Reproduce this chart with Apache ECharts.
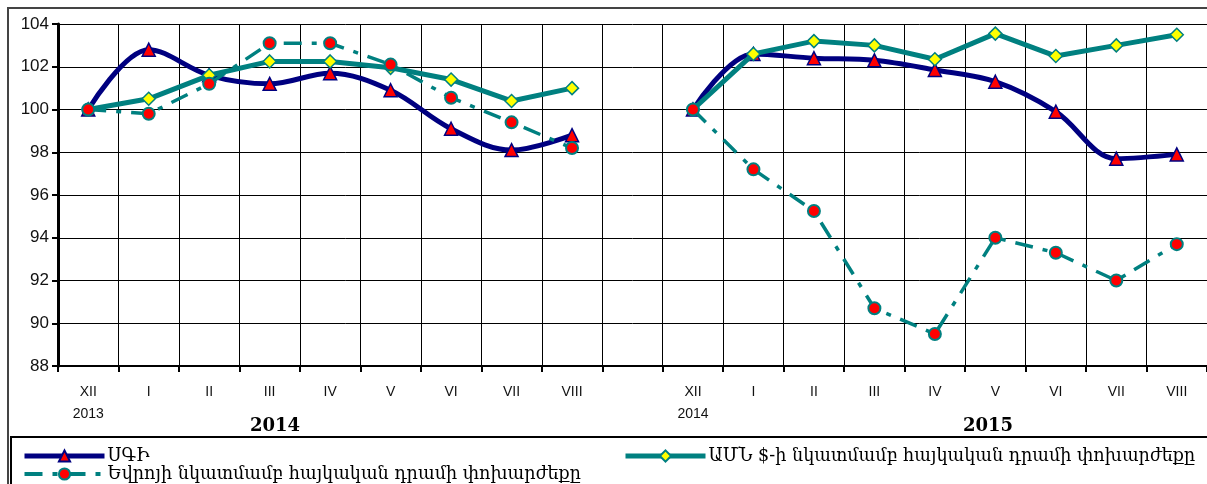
<!DOCTYPE html>
<html>
<head>
<meta charset="utf-8">
<script src="https://cdn.jsdelivr.net/npm/echarts@6/dist/echarts.min.js"></script>
<style>html,body{margin:0;padding:0;background:#fff}#c{width:1207px;height:484px}</style>
</head>
<body>
<div id="c"></div>
<script>
const categories = ['XII\n2013','I','II','III','IV','V','VI','VII','VIII','','XII\n2014','I','II','III','IV','V','VI','VII','VIII'];
const yearLabels = ['2014', '2015'];
const seriesNames = ['ՍԳԻ', 'Եվրոյի նկատմամբ հայկական դրամի փոխարժեքը', 'ԱՄՆ $-ի նկատմամբ հայկական դրամի փոխարժեքը'];
const cpiValues = [100, 102.8, 101.6, 101.2, 101.7, 100.9, 99.1, 98.1, 98.8, null, 100, 102.6, 102.4, 102.3, 101.85, 101.3, 99.9, 97.7, 97.9];
const eurValues = [100, 99.8, 101.2, 103.1, 103.1, 102.1, 100.55, 99.4, 98.2, null, 100, 97.2, 95.25, 90.7, 89.5, 94.0, 93.3, 92.0, 93.7];
const usdValues = [100, 100.5, 101.6, 102.25, 102.25, 101.95, 101.4, 100.4, 101.0, null, 100, 102.6, 103.2, 103.0, 102.35, 103.55, 102.5, 103.0, 103.5];

const chart = echarts.init(document.getElementById('c'));
const serifArm = '"DejaVu Serif", "Noto Sans", serif';
const legendText = { fontSize: 17.6, lineHeight: 18, color: '#000', fontFamily: serifArm, padding: [0, 0, 0, -2] };
chart.setOption({
  animation: false,
  backgroundColor: '#fff',
  grid: { left: 58, top: 24, width: 1150, height: 342, containLabel: false },
  xAxis: {
    type: 'category',
    data: categories,
    boundaryGap: true,
    axisLine: { lineStyle: { color: '#000', width: 2 } },
    axisTick: { show: true, interval: 0, length: 6, lineStyle: { color: '#000', width: 2 } },
    splitLine: { show: true, interval: 0, lineStyle: { color: '#000', width: 1 } },
    axisLabel: { interval: 0, margin: 15, color: '#111', fontSize: 14, lineHeight: 22, fontFamily: '"Liberation Sans", Arial, sans-serif' }
  },
  yAxis: {
    type: 'value', min: 88, max: 104, interval: 2,
    axisLine: { show: true, lineStyle: { color: '#000', width: 3 } },
    axisTick: { show: true, length: 6, lineStyle: { color: '#000', width: 2 } },
    splitLine: { show: true, lineStyle: { color: '#000', width: 1 } },
    axisLabel: { color: '#111', fontSize: 17, margin: 9, fontFamily: '"Liberation Sans", Arial, sans-serif' }
  },
  legend: [
    {
      data: [
        { name: seriesNames[0], lineStyle: { width: 5 } },
        { name: seriesNames[1], lineStyle: { width: 4 } }
      ],
      orient: 'vertical', left: 17, top: 442, height: 200, itemWidth: 80, itemHeight: 14, itemGap: 0,
      textStyle: legendText
    },
    {
      data: [{ name: seriesNames[2], lineStyle: { width: 5 } }],
      orient: 'vertical', left: 618, top: 442, height: 200, itemWidth: 80, itemHeight: 14,
      textStyle: legendText
    }
  ],
  graphic: [
    { type: 'rect', z: 100, shape: { x: 8, y: 8, width: 1220, height: 500 }, style: { fill: 'none', stroke: '#444', lineWidth: 2 } },
    { type: 'rect', z: 100, shape: { x: 11, y: 437, width: 1210, height: 60 }, style: { fill: 'none', stroke: '#000', lineWidth: 2 } },
    { type: 'text', z: 100, left: 250, top: 417, style: { text: yearLabels[0], font: 'bold 18px "DejaVu Serif", serif', fill: '#000' } },
    { type: 'text', z: 100, left: 963, top: 417, style: { text: yearLabels[1], font: 'bold 18px "DejaVu Serif", serif', fill: '#000' } }
  ],
  series: [
    {
      name: seriesNames[0], type: 'line', data: cpiValues, smooth: 0.35, connectNulls: false, z: 2,
      lineStyle: { color: '#000080', width: 5 },
      symbol: 'triangle', symbolSize: 13,
      itemStyle: { color: '#ff0000', borderColor: '#000080', borderWidth: 1.5 }
    },
    {
      name: seriesNames[2], type: 'line', data: usdValues, connectNulls: false, z: 3,
      lineStyle: { color: '#008080', width: 5 },
      symbol: 'diamond', symbolSize: 13,
      itemStyle: { color: '#ffff00', borderColor: '#008080', borderWidth: 1.5 }
    },
    {
      name: seriesNames[1], type: 'line', data: eurValues, connectNulls: false, z: 4,
      lineStyle: { color: '#008080', width: 3.5, type: [18, 10, 5, 10] },
      symbol: 'circle', symbolSize: 12,
      itemStyle: { color: '#ff0000', borderColor: '#008080', borderWidth: 2 }
    }
  ]
});
</script>
</body>
</html>
